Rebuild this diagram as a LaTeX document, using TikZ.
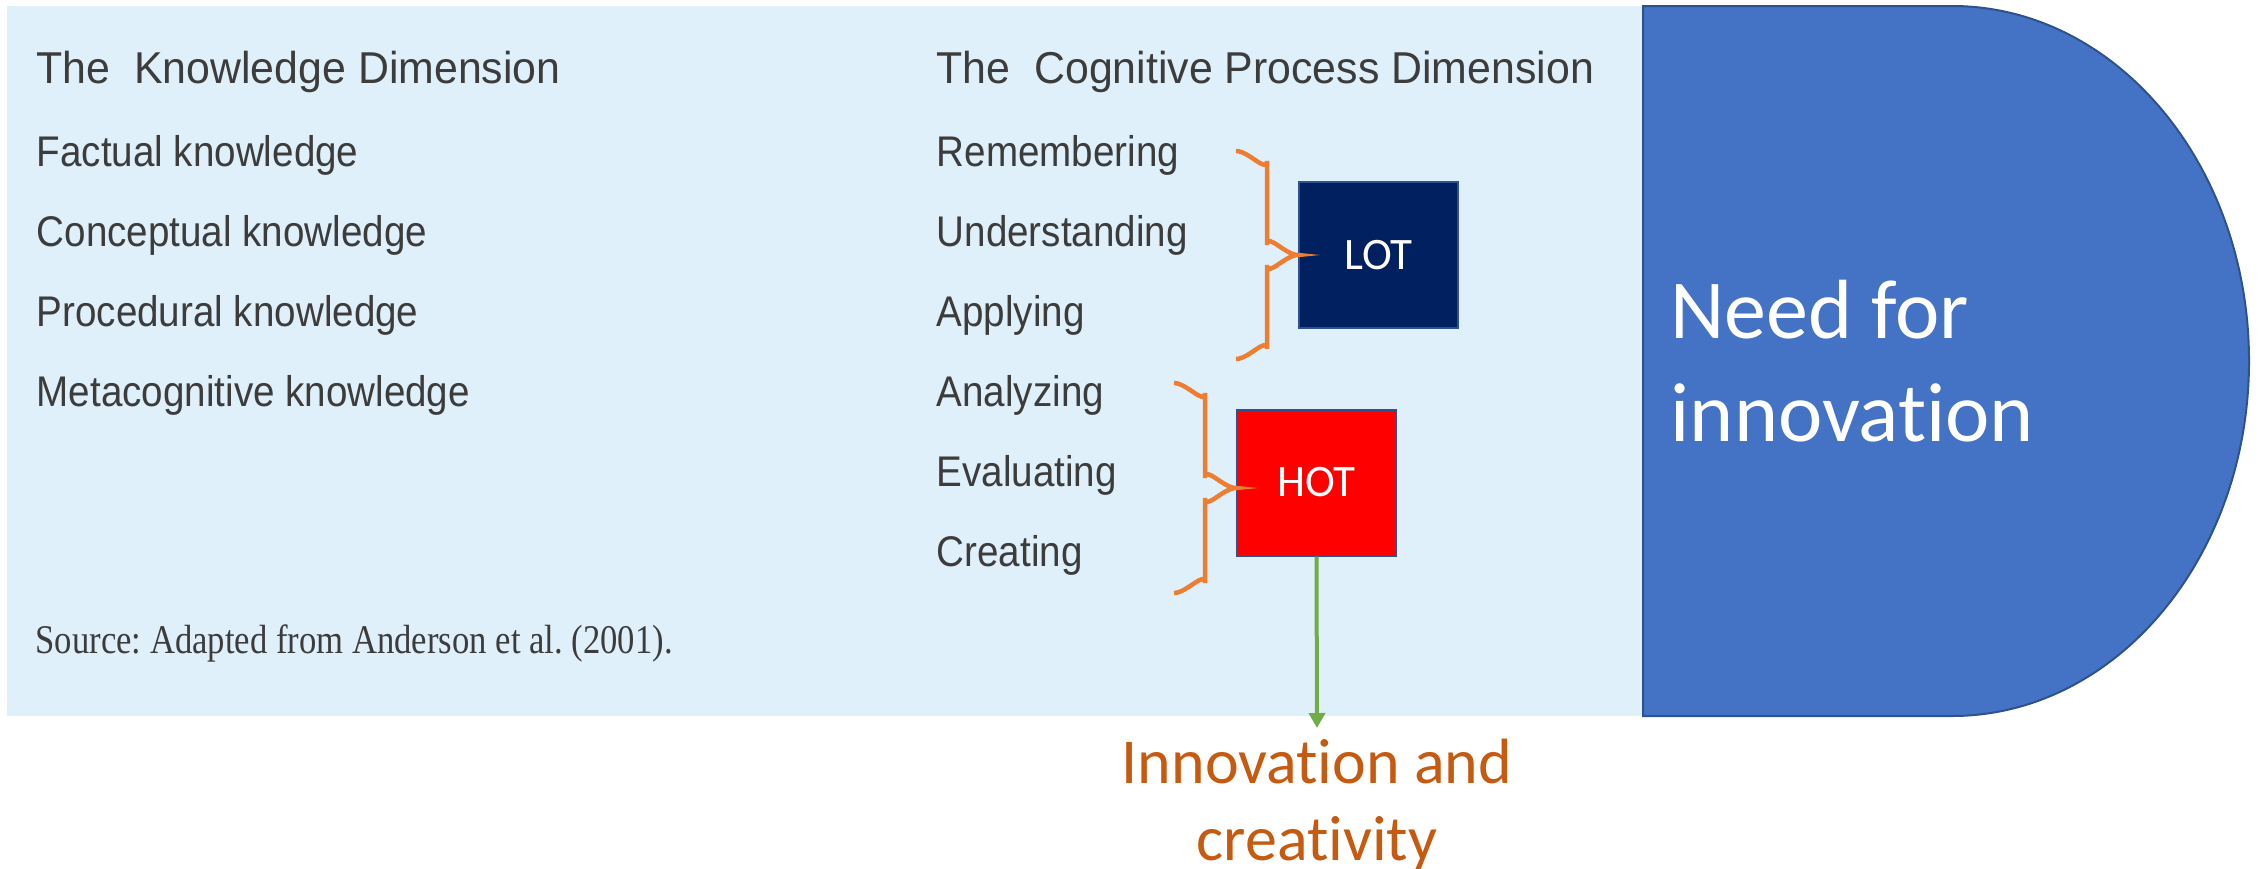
\documentclass[tikz,border=0pt]{standalone}
\usepackage{fontspec}
\usetikzlibrary{positioning,arrows.meta,calc}
\setmainfont{Liberation Sans}
\newfontfamily\listfont{Liberation Sans}[FakeStretch=0.9]
\newfontfamily\headfont{Liberation Sans}[FakeStretch=0.96]
\newfontfamily\srcfont{Liberation Serif}[FakeStretch=0.85]
\newfontfamily\calib{Carlito}[Ligatures=NoCommon]
\frenchspacing
\definecolor{celeste}{HTML}{DFF0FA}
\definecolor{gris}{HTML}{3C3C3C}
\definecolor{azul}{HTML}{4472C4}
\definecolor{borde}{HTML}{2F528F}
\definecolor{marino}{HTML}{002060}
\definecolor{naranja}{HTML}{ED7D31}
\definecolor{verde}{HTML}{70AD47}
\definecolor{ladrillo}{HTML}{C55A11}

\tikzset{
  pics/llave/.style={code={
    \draw[llavetrazo] (-62,-#1) to[out=0,in=-90] (-31,-#1+10) -- (-31,-10)
      to[out=90,in=180] (0,0) to[out=180,in=-90] (-31,10) -- (-31,#1-10)
      to[out=90,in=0] (-62,#1);
  }}
}

\begin{document}
\begin{tikzpicture}[x=0.1mm, y=-0.1mm,
    item/.style={anchor=base west, inner sep=0, text=gris,
      font=\listfont\fontsize{12.2}{14}\selectfont},
    head/.style={item, font=\headfont\fontsize{12.7}{15}\selectfont},
    nivel/.style={draw=borde, line width=0.2mm, minimum width=15.9mm,
      minimum height=14.6mm, inner sep=0, text=white,
      font=\calib\fontsize{12.8}{15}\selectfont},
    llavetrazo/.style={naranja, line width=0.45mm}]
  \useasboundingbox (0,0) rectangle (2264,868);
  \fill[celeste] (7,6) rectangle (1643,716);

  % semicircle on the right
  \draw[fill=azul, draw=borde, line width=0.2mm] (1643,6) -- (1952,6)
    arc[start angle=-90, end angle=90, x radius=297, y radius=355]
    -- (1643,716) -- cycle;
  \node[anchor=west, inner sep=0, text=white, align=left,
    font=\calib\fontsize{23.9}{29.3}\selectfont] (need) at (1670,361)
    {Need for\\innovation};

  % both columns
  \node[head] (kdim) at (36,83) {The~~Knowledge Dimension};
  \node[head] (cdim) at (936,83) {The~~Cognitive Process Dimension};
  \foreach \t [count=\i] in {Factual knowledge, Conceptual knowledge,
      Procedural knowledge, Metacognitive knowledge}
    \node[item] (k\i) at (36,86+80*\i) {\t};
  \foreach \t [count=\i] in {Remembering, Understanding, Applying,
      Analyzing, Evaluating, Creating}
    \node[item] (c\i) at (936,86+80*\i) {\t};
  \node[anchor=base west, inner sep=0, text=gris,
    font=\srcfont\fontsize{11.6}{14}\selectfont] (src) at (35,653)
    {Source: Adapted from Anderson et al. (2001).};

  % LOT / HOT
  \node[nivel, fill=marino] (lot) at (1378.5,255) {LOT};
  \node[nivel, fill=red] (hot) at (1316.5,482.5) {HOT};
  \pic at (lot.west) {llave=104};
  \pic at ($(hot.west)+(0,5.5)$) {llave=105};

  \node[anchor=north, inner xsep=0, inner ysep=1mm, text=ladrillo, align=center,
    font=\calib\fontsize{18.2}{21.9}\selectfont] (innov) at (1317,728)
    {Innovation and\\creativity};
  \draw[verde, line width=0.4mm, -{Triangle[width=1.6mm,length=1.5mm]}]
    (hot.south) -- (innov.north);
\end{tikzpicture}
\end{document}
